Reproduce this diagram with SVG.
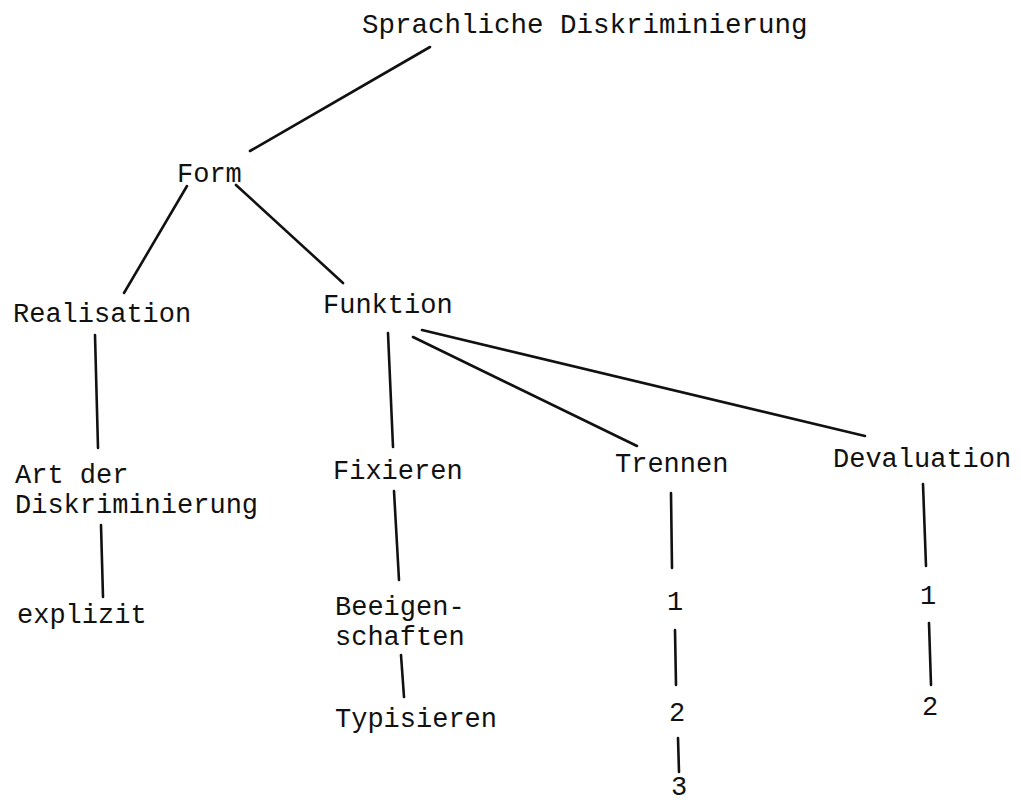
<svg xmlns="http://www.w3.org/2000/svg" width="1021" height="803" viewBox="0 0 1021 803">
<style>
text{font-family:"Liberation Mono","Courier New",monospace;font-size:27px;fill:#111}
.c line{stroke:#111;stroke-width:2.6;stroke-linecap:round}
</style>
<rect width="1021" height="803" fill="#fff"/>
<g class="c" id="connectors">
<line x1="430" y1="47" x2="250" y2="151"/>
<line x1="187" y1="186" x2="124" y2="293"/>
<line x1="236" y1="185" x2="343" y2="283"/>
<line x1="95" y1="335" x2="98" y2="448"/>
<line x1="388" y1="333" x2="393" y2="447"/>
<line x1="413" y1="337" x2="637" y2="446"/>
<line x1="422" y1="330" x2="865" y2="436"/>
<line x1="101" y1="525" x2="103" y2="597"/>
<line x1="394" y1="491" x2="399" y2="580"/>
<line x1="401" y1="655" x2="404" y2="697"/>
<line x1="671" y1="493" x2="672" y2="568"/>
<line x1="675" y1="630" x2="676" y2="685"/>
<line x1="678" y1="738" x2="679" y2="772"/>
<line x1="923" y1="484" x2="926" y2="566"/>
<line x1="929" y1="623" x2="931" y2="685"/>
</g>
<g id="root"><text x="362" y="33" style="font-size:27.5px">Sprachliche Diskriminierung</text></g>
<g id="form"><text x="177" y="182">Form</text></g>
<g id="realisation"><text x="13" y="322">Realisation</text></g>
<g id="funktion"><text x="323" y="313">Funktion</text></g>
<g id="art"><text x="15" y="483">Art der<tspan x="15" y="513">Diskriminierung</tspan></text></g>
<g id="fixieren"><text x="333" y="479">Fixieren</text></g>
<g id="trennen"><text x="615" y="472">Trennen</text></g>
<g id="devaluation"><text x="833" y="467">Devaluation</text></g>
<g id="explizit"><text x="17" y="623">explizit</text></g>
<g id="beeigen"><text x="335" y="615">Beeigen-<tspan x="335" y="645">schaften</tspan></text></g>
<g id="typisieren"><text x="335" y="727">Typisieren</text></g>
<g id="t1"><text x="667" y="610">1</text></g>
<g id="t2"><text x="669" y="721">2</text></g>
<g id="t3"><text x="671" y="795">3</text></g>
<g id="d1"><text x="920" y="604">1</text></g>
<g id="d2"><text x="922" y="715">2</text></g>
</svg>
